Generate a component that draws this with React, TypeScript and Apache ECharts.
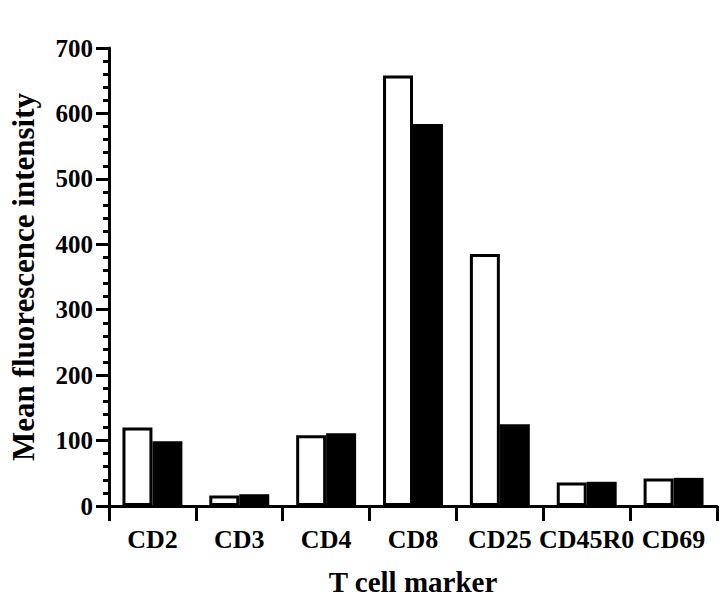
import React, { useEffect, useRef } from "react";
import * as echarts from "echarts";

const categories = ["CD2", "CD3", "CD4", "CD8", "CD25", "CD45R0", "CD69"];
const openValues = [120, 16, 108, 658, 385, 36, 42];
const filledValues = [99, 18, 111, 584, 125, 37, 43];
const yTicks = [0, 100, 200, 300, 400, 500, 600, 700];

const FONT = "'Liberation Serif', 'Times New Roman', serif";

export default function App() {
  const ref = useRef<HTMLDivElement>(null);
  useEffect(() => {
    if (!ref.current) return;
    const chart = echarts.init(ref.current, null, { renderer: "svg" });
    chart.setOption({
      animation: false,
      backgroundColor: "#ffffff",
      grid: { left: 98, right: 3, top: 48, bottom: 88, containLabel: false },
      xAxis: {
        type: "category",
        data: categories,
        name: "T cell marker",
        nameLocation: "middle",
        nameGap: 61,
        nameTextStyle: { fontFamily: FONT, fontWeight: "bold", fontSize: 29, color: "#000" },
        axisLine: { show: true, lineStyle: { color: "#000", width: 3 } },
        axisTick: { show: true, alignWithLabel: false, length: 15, lineStyle: { color: "#000", width: 3 } },
        axisLabel: { fontFamily: FONT, fontWeight: "bold", fontSize: 26, color: "#000", margin: 20, interval: 0 },
        splitLine: { show: false },
      },
      yAxis: {
        type: "value",
        min: yTicks[0],
        max: yTicks[yTicks.length - 1],
        interval: 100,
        name: "Mean fluorescence intensity",
        nameLocation: "middle",
        nameGap: 70,
        nameTextStyle: { fontFamily: FONT, fontWeight: "bold", fontSize: 31, color: "#000" },
        axisLine: { show: true, lineStyle: { color: "#000", width: 3 } },
        axisTick: { show: true, length: 13, lineStyle: { color: "#000", width: 3 } },
        minorTick: { show: true, splitNumber: 5, length: 6, lineStyle: { color: "#000", width: 3 } },
        axisLabel: { fontFamily: FONT, fontWeight: "bold", fontSize: 25, color: "#000", margin: 16 },
        splitLine: { show: false },
      },
      series: [
        {
          type: "bar",
          data: openValues,
          barGap: "0%",
          barCategoryGap: "31%",
          itemStyle: { color: "#ffffff", borderColor: "#000", borderWidth: 3 },
        },
        {
          type: "bar",
          data: filledValues,
          barGap: "0%",
          barCategoryGap: "31%",
          itemStyle: { color: "#000", borderColor: "#000", borderWidth: 0 },
        },
      ],
    });
    return () => chart.dispose();
  }, []);
  return <div ref={ref} style={{ width: 720, height: 601, position: "absolute", left: 0, top: 0 }} />;
}
